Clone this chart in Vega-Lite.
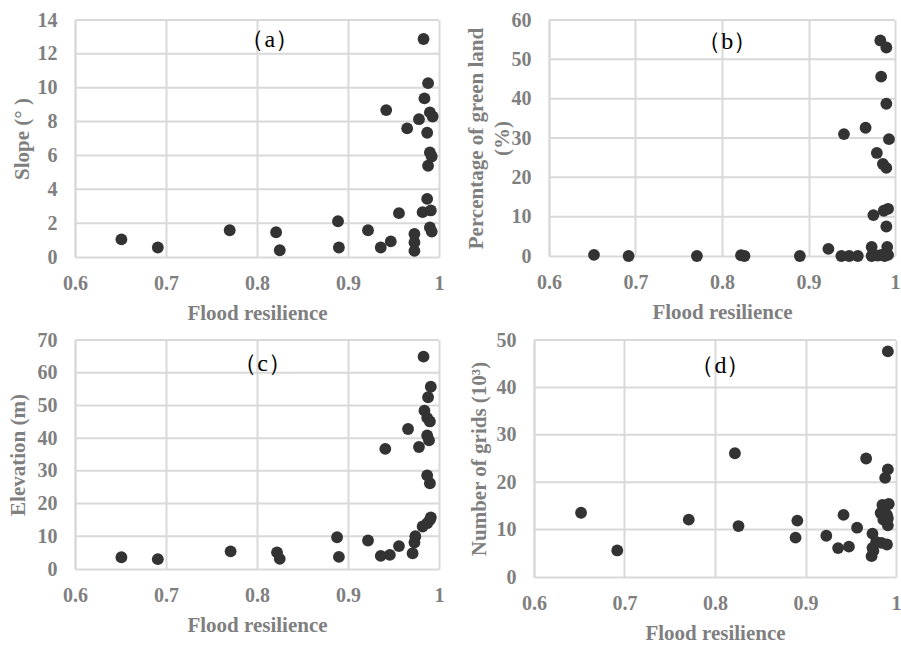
{
  "$schema": "https://vega.github.io/schema/vega-lite/v6.json",
  "padding": {"left": 7, "top": 10, "right": 0, "bottom": 0},
  "background": "white",
  "spacing": 7,
  "config": {
    "view": {"stroke": null},
    "axis": {
      "domainColor": "#d9d9d9", "domainWidth": 2,
      "gridColor": "#d9d9d9", "gridWidth": 2,
      "ticks": false,
      "labelFont": "Liberation Serif", "labelFontWeight": "bold", "labelFontSize": 20, "labelColor": "#7f7f7f",
      "titleFont": "Liberation Serif", "titleFontWeight": "bold", "titleFontSize": 21, "titleColor": "#7f7f7f",
      "labelFlush": false, "labelOverlap": false
    },
    "axisX": {"labelPadding": 16, "minExtent": 35, "maxExtent": 35, "titlePadding": 10},
    "axisY": {"labelPadding": 18, "minExtent": 38, "maxExtent": 38}
  },
  "datasets": {
    "slope": [
      {"fr":0.651,"v":1.04},{"fr":0.691,"v":0.56},{"fr":0.770,"v":1.58},{"fr":0.821,"v":1.46},{"fr":0.825,"v":0.40},
      {"fr":0.889,"v":2.11},{"fr":0.890,"v":0.56},{"fr":0.922,"v":1.58},{"fr":0.936,"v":0.56},{"fr":0.947,"v":0.92},
      {"fr":0.942,"v":8.68},{"fr":0.956,"v":2.59},{"fr":0.965,"v":7.6},{"fr":0.973,"v":1.36},{"fr":0.973,"v":0.86},
      {"fr":0.973,"v":0.36},{"fr":0.978,"v":8.14},{"fr":0.983,"v":12.88},{"fr":0.984,"v":9.37},{"fr":0.988,"v":10.27},
      {"fr":0.987,"v":7.34},{"fr":0.990,"v":8.54},{"fr":0.993,"v":8.3},{"fr":0.990,"v":6.18},{"fr":0.992,"v":5.94},
      {"fr":0.988,"v":5.39},{"fr":0.987,"v":3.43},{"fr":0.982,"v":2.65},{"fr":0.991,"v":2.75},{"fr":0.990,"v":1.75},
      {"fr":0.992,"v":1.50}
    ],
    "green": [
      {"fr":0.652,"v":0.3},{"fr":0.692,"v":0},{"fr":0.771,"v":0},{"fr":0.822,"v":0.2},{"fr":0.826,"v":0},
      {"fr":0.890,"v":0},{"fr":0.923,"v":1.8},{"fr":0.938,"v":0},{"fr":0.947,"v":0},{"fr":0.957,"v":0},
      {"fr":0.941,"v":31.0},{"fr":0.966,"v":32.6},{"fr":0.973,"v":0},{"fr":0.973,"v":2.3},{"fr":0.975,"v":10.4},
      {"fr":0.979,"v":26.2},{"fr":0.983,"v":54.8},{"fr":0.990,"v":53.0},{"fr":0.984,"v":45.6},{"fr":0.990,"v":38.7},
      {"fr":0.993,"v":29.7},{"fr":0.986,"v":23.4},{"fr":0.990,"v":22.4},{"fr":0.987,"v":11.5},{"fr":0.992,"v":12.0},
      {"fr":0.990,"v":7.5},{"fr":0.991,"v":2.3},{"fr":0.984,"v":0.3},{"fr":0.992,"v":0.3},{"fr":0.980,"v":0.1},
      {"fr":0.988,"v":0}
    ],
    "elev": [
      {"fr":0.651,"v":3.6},{"fr":0.691,"v":3.0},{"fr":0.771,"v":5.4},{"fr":0.822,"v":5.1},{"fr":0.825,"v":3.1},
      {"fr":0.888,"v":9.7},{"fr":0.890,"v":3.7},{"fr":0.922,"v":8.7},{"fr":0.941,"v":36.7},{"fr":0.936,"v":4.0},
      {"fr":0.946,"v":4.3},{"fr":0.956,"v":7.0},{"fr":0.966,"v":42.8},{"fr":0.974,"v":10.0},{"fr":0.973,"v":8.1},
      {"fr":0.971,"v":4.8},{"fr":0.978,"v":37.3},{"fr":0.983,"v":64.9},{"fr":0.984,"v":48.4},{"fr":0.987,"v":46.2},
      {"fr":0.990,"v":45.1},{"fr":0.991,"v":55.7},{"fr":0.988,"v":52.5},{"fr":0.987,"v":40.8},{"fr":0.989,"v":39.3},
      {"fr":0.987,"v":28.6},{"fr":0.990,"v":26.2},{"fr":0.982,"v":13.0},{"fr":0.987,"v":14.0},{"fr":0.990,"v":15.0},
      {"fr":0.991,"v":15.8}
    ],
    "grids": [
      {"fr":0.652,"v":13.55},{"fr":0.692,"v":5.6},{"fr":0.771,"v":12.1},{"fr":0.822,"v":26.1},{"fr":0.826,"v":10.75},
      {"fr":0.889,"v":8.3},{"fr":0.891,"v":11.9},{"fr":0.923,"v":8.7},{"fr":0.936,"v":6.1},{"fr":0.942,"v":13.1},
      {"fr":0.948,"v":6.4},{"fr":0.957,"v":10.4},{"fr":0.967,"v":25.0},{"fr":0.974,"v":9.15},{"fr":0.974,"v":6.15},
      {"fr":0.973,"v":4.4},{"fr":0.978,"v":7.4},{"fr":0.984,"v":7.2},{"fr":0.990,"v":6.85},{"fr":0.991,"v":47.6},
      {"fr":0.991,"v":22.7},{"fr":0.988,"v":20.9},{"fr":0.985,"v":15.2},{"fr":0.992,"v":15.4},{"fr":0.983,"v":13.5},
      {"fr":0.990,"v":13.1},{"fr":0.986,"v":12.1},{"fr":0.991,"v":12.4},{"fr":0.991,"v":10.9},{"fr":0.987,"v":14.0},
      {"fr":0.975,"v":5.5}
    ],
    "gridA": [{"v":2},{"v":4},{"v":6},{"v":8},{"v":10},{"v":12},{"v":14}],
    "gridB": [{"v":10},{"v":20},{"v":30},{"v":40},{"v":50},{"v":60}],
    "gridC": [{"v":10},{"v":20},{"v":30},{"v":40},{"v":50},{"v":60},{"v":70}],
    "gridD": [{"v":10},{"v":20},{"v":30},{"v":40},{"v":50}],
    "labA": [{"fr":0.814,"v":12.8,"t":"（a）"}],
    "labB": [{"fr":0.806,"v":54.3,"t":"（b）"}],
    "labC": [{"fr":0.806,"v":62.8,"t":"（c）"}],
    "labD": [{"fr":0.806,"v":44.6,"t":"（d）"}]
  },
  "vconcat": [
    {
      "spacing": 21,
      "hconcat": [
        {
          "width": 364, "height": 237,
          "encoding": {
            "y": {"field": "v", "type": "quantitative", "title": "Slope (° )",
              "scale": {"domain": [0, 14], "nice": false},
              "axis": {"values": [0, 2, 4, 6, 8, 10, 12, 14], "grid": false, "titlePadding": 5}}
          },
          "layer": [
            {
              "data": {"name": "gridA"},
              "mark": {"type": "rule", "color": "#d9d9d9", "strokeWidth": 2},
              "encoding": {}
            },
            {
              "data": {"name": "slope"},
              "mark": {"type": "point", "filled": true, "size": 140, "color": "#333333", "opacity": 1},
              "encoding": {
                "x": {"field": "fr", "type": "quantitative", "title": "Flood resilience",
                  "scale": {"domain": [0.6, 1], "nice": false, "zero": false},
                  "axis": {"values": [0.6, 0.7, 0.8, 0.9, 1], "labelExpr": "datum.value >= 1 ? '1' : format(datum.value, '.1f')"}}
              }
            },
            {
              "data": {"name": "labA"},
              "mark": {"type": "text", "font": "Liberation Serif", "fontSize": 24, "color": "#000000"},
              "encoding": {
                "x": {"field": "fr", "type": "quantitative", "title": "Flood resilience",
                  "scale": {"domain": [0.6, 1], "nice": false, "zero": false},
                  "axis": {"values": [0.6, 0.7, 0.8, 0.9, 1], "labelExpr": "datum.value >= 1 ? '1' : format(datum.value, '.1f')"}},
                "text": {"field": "t"}
              }
            }
          ]
        },
        {
          "width": 346, "height": 236,
          "encoding": {
            "y": {"field": "v", "type": "quantitative", "title": ["Percentage of green land", "(%)"],
              "scale": {"domain": [0, 60], "nice": false},
              "axis": {"values": [0, 10, 20, 30, 40, 50, 60], "grid": false, "minExtent": 36, "maxExtent": 36, "titlePadding": 1, "titleLineHeight": 26}}
          },
          "layer": [
            {
              "data": {"name": "gridB"},
              "mark": {"type": "rule", "color": "#d9d9d9", "strokeWidth": 2},
              "encoding": {}
            },
            {
              "data": {"name": "green"},
              "mark": {"type": "point", "filled": true, "size": 140, "color": "#333333", "opacity": 1},
              "encoding": {
                "x": {"field": "fr", "type": "quantitative", "title": "Flood resilience",
                  "scale": {"domain": [0.6, 1], "nice": false, "zero": false},
                  "axis": {"values": [0.6, 0.7, 0.8, 0.9, 1], "labelExpr": "datum.value >= 1 ? '1' : format(datum.value, '.1f')"}}
              }
            },
            {
              "data": {"name": "labB"},
              "mark": {"type": "text", "font": "Liberation Serif", "fontSize": 24, "color": "#000000"},
              "encoding": {
                "x": {"field": "fr", "type": "quantitative", "title": "Flood resilience",
                  "scale": {"domain": [0.6, 1], "nice": false, "zero": false},
                  "axis": {"values": [0.6, 0.7, 0.8, 0.9, 1], "labelExpr": "datum.value >= 1 ? '1' : format(datum.value, '.1f')"}},
                "text": {"field": "t"}
              }
            }
          ]
        }
      ]
    },
    {
      "spacing": 24,
      "hconcat": [
        {
          "width": 364, "height": 229,
          "encoding": {
            "y": {"field": "v", "type": "quantitative", "title": "Elevation (m)",
              "scale": {"domain": [0, 70], "nice": false},
              "axis": {"values": [0, 10, 20, 30, 40, 50, 60, 70], "grid": false, "titlePadding": 9}}
          },
          "layer": [
            {
              "data": {"name": "gridC"},
              "mark": {"type": "rule", "color": "#d9d9d9", "strokeWidth": 2},
              "encoding": {}
            },
            {
              "data": {"name": "elev"},
              "mark": {"type": "point", "filled": true, "size": 140, "color": "#333333", "opacity": 1},
              "encoding": {
                "x": {"field": "fr", "type": "quantitative", "title": "Flood resilience",
                  "scale": {"domain": [0.6, 1], "nice": false, "zero": false},
                  "axis": {"values": [0.6, 0.7, 0.8, 0.9, 1], "labelExpr": "datum.value >= 1 ? '1' : format(datum.value, '.1f')"}}
              }
            },
            {
              "data": {"name": "labC"},
              "mark": {"type": "text", "font": "Liberation Serif", "fontSize": 24, "color": "#000000"},
              "encoding": {
                "x": {"field": "fr", "type": "quantitative", "title": "Flood resilience",
                  "scale": {"domain": [0.6, 1], "nice": false, "zero": false},
                  "axis": {"values": [0.6, 0.7, 0.8, 0.9, 1], "labelExpr": "datum.value >= 1 ? '1' : format(datum.value, '.1f')"}},
                "text": {"field": "t"}
              }
            }
          ]
        },
        {
          "width": 362, "height": 237,
          "encoding": {
            "y": {"field": "v", "type": "quantitative", "title": "Number of grids (10³)",
              "scale": {"domain": [0, 50], "nice": false},
              "axis": {"values": [0, 10, 20, 30, 40, 50], "grid": false, "titlePadding": 7}}
          },
          "layer": [
            {
              "data": {"name": "gridD"},
              "mark": {"type": "rule", "color": "#d9d9d9", "strokeWidth": 2},
              "encoding": {}
            },
            {
              "data": {"name": "grids"},
              "mark": {"type": "point", "filled": true, "size": 140, "color": "#333333", "opacity": 1},
              "encoding": {
                "x": {"field": "fr", "type": "quantitative", "title": "Flood resilience",
                  "scale": {"domain": [0.6, 1], "nice": false, "zero": false},
                  "axis": {"values": [0.6, 0.7, 0.8, 0.9, 1], "labelExpr": "datum.value >= 1 ? '1' : format(datum.value, '.1f')"}}
              }
            },
            {
              "data": {"name": "labD"},
              "mark": {"type": "text", "font": "Liberation Serif", "fontSize": 24, "color": "#000000"},
              "encoding": {
                "x": {"field": "fr", "type": "quantitative", "title": "Flood resilience",
                  "scale": {"domain": [0.6, 1], "nice": false, "zero": false},
                  "axis": {"values": [0.6, 0.7, 0.8, 0.9, 1], "labelExpr": "datum.value >= 1 ? '1' : format(datum.value, '.1f')"}},
                "text": {"field": "t"}
              }
            }
          ]
        }
      ]
    }
  ]
}
